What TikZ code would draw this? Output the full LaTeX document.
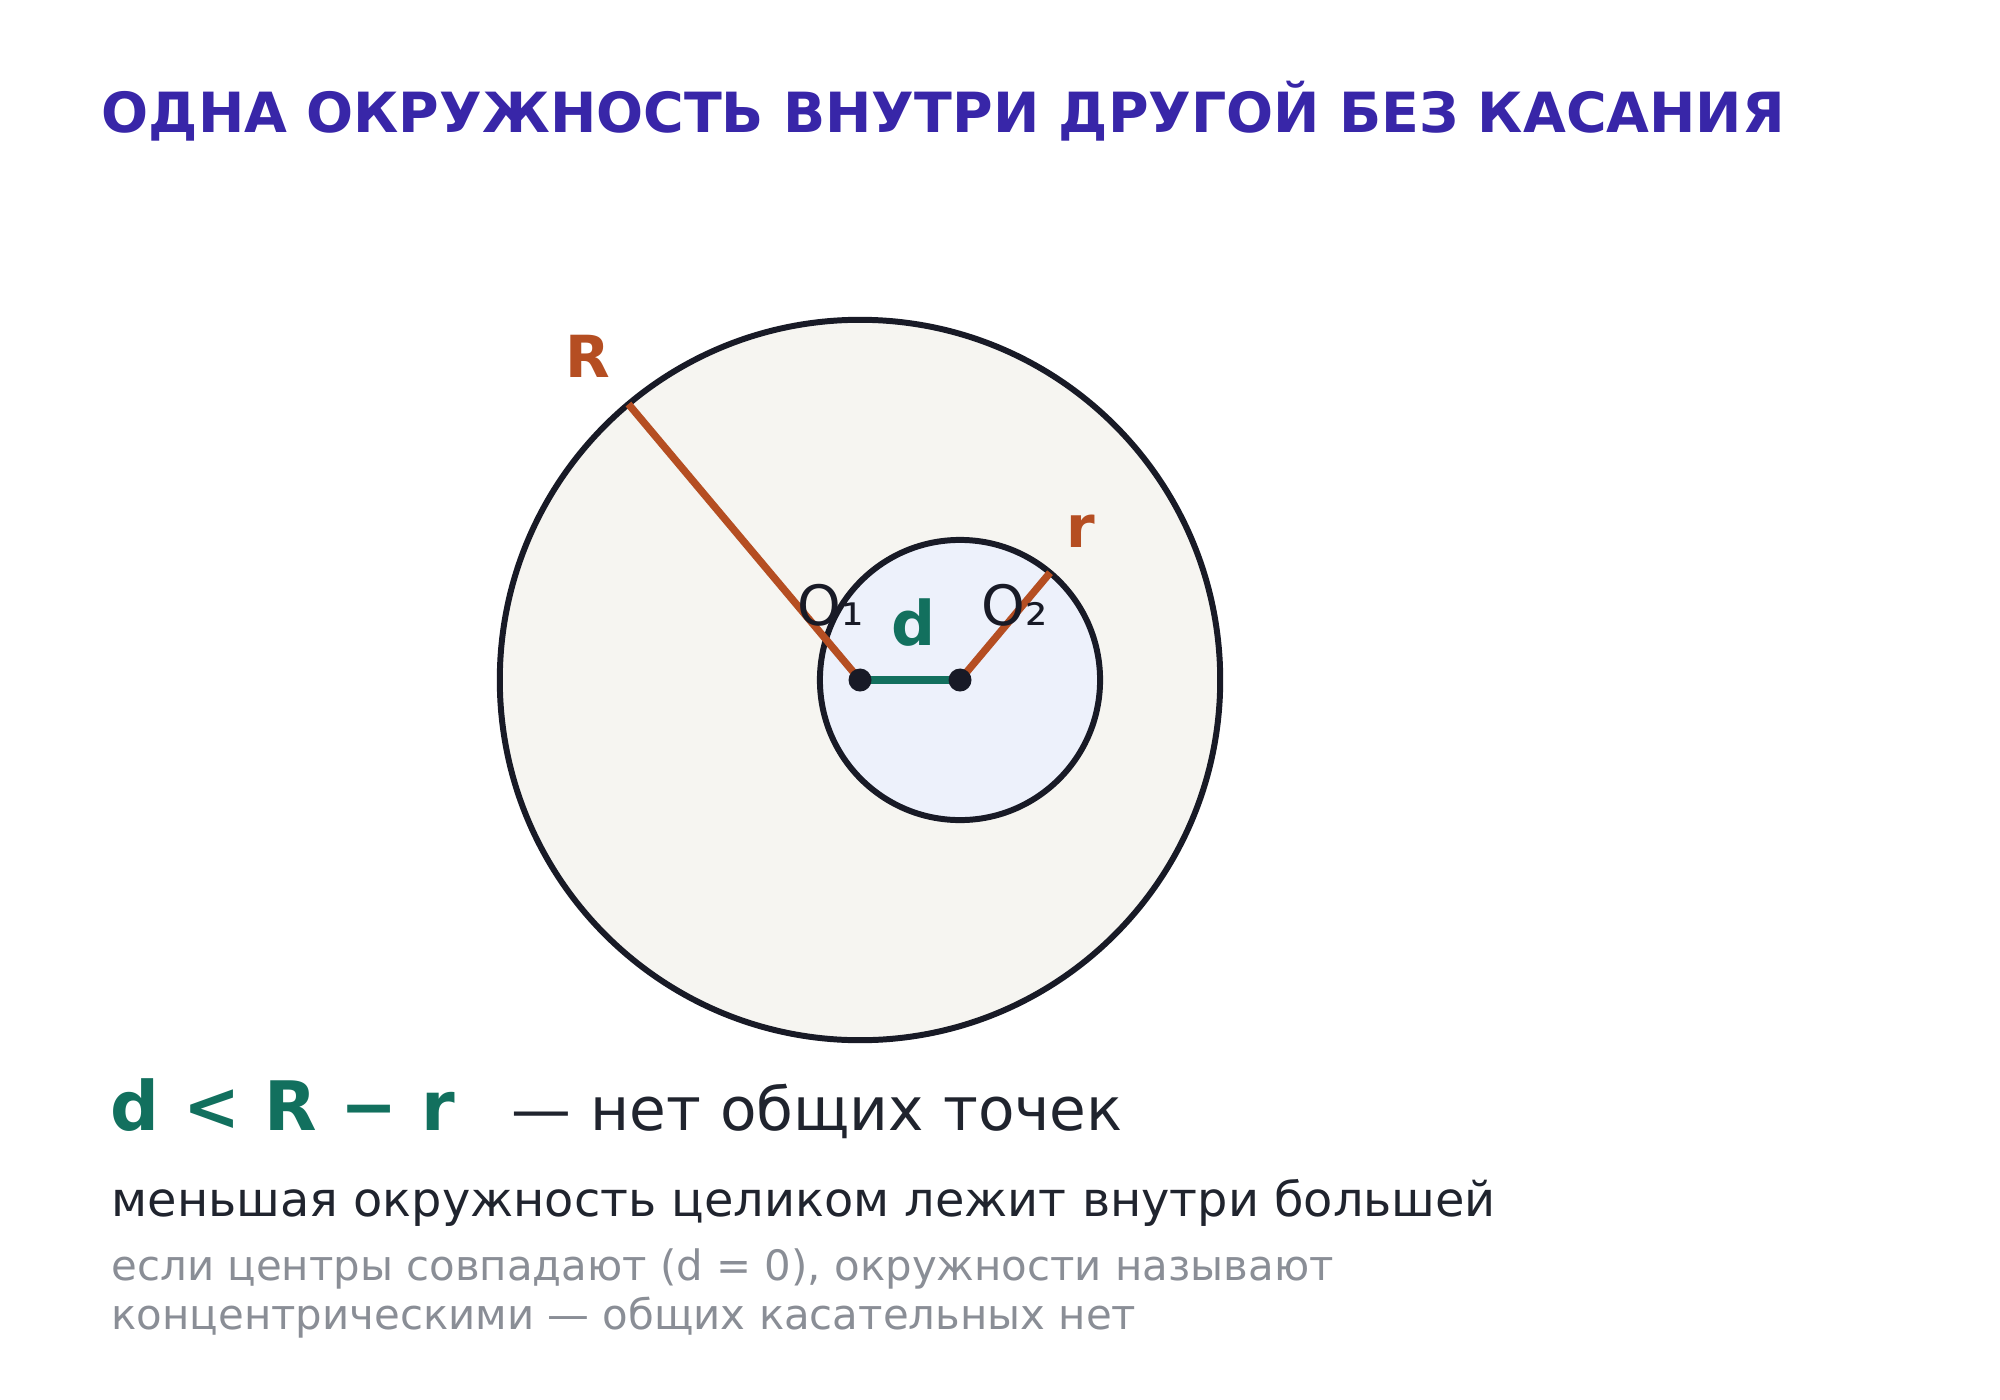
\documentclass[tikz,border=0pt]{standalone}
\usepackage{fontspec}
\setmainfont{DejaVu Sans}
\definecolor{titleC}{RGB}{56,38,168}
\definecolor{orangeC}{RGB}{181,78,34}
\definecolor{tealC}{RGB}{18,112,94}
\definecolor{inkC}{RGB}{24,26,38}
\definecolor{bigfillC}{RGB}{246,245,241}
\definecolor{smallfillC}{RGB}{237,241,251}
\definecolor{textC}{RGB}{32,36,46}
\definecolor{grayC}{RGB}{138,142,150}
\begin{document}
\begin{tikzpicture}[x=0.01cm,y=-0.01cm,
  ring/.style={circle,draw=inkC,line width=1.7pt,inner sep=0pt,outer sep=0pt},
  radiusline/.style={draw=orangeC,line width=2.1pt},
  distline/.style={draw=tealC,line width=2.2pt},
  dot/.style={circle,fill=inkC,inner sep=0pt,minimum size=0.23cm},
  lbl/.style={inner sep=0pt,anchor=base west},
]
\useasboundingbox[fill=white] (0,0) rectangle (2000,1400);
% title
\node[lbl,text=titleC,font=\fontsize{15.75}{19}\selectfont\bfseries] (title) at (101,133) {ОДНА ОКРУЖНОСТЬ ВНУТРИ ДРУГОЙ БЕЗ КАСАНИЯ};
% circles
\node[ring,fill=bigfillC,minimum size=7.2cm] (big) at (860,680) {};
\node[ring,fill=smallfillC,minimum size=2.8cm] (small) at (960,680) {};
% centres
\coordinate (c1) at (860,680);
\coordinate (c2) at (960,680);
\path[radiusline] (c1) -- (big.130);
\path[radiusline] (c2) -- (small.50);
\path[distline] (c1) -- (c2);
\node[dot] (O1) at (c1) {};
\node[dot] (O2) at (c2) {};
% labels
\node[lbl,text=orangeC,font=\fontsize{16.5}{19}\selectfont\bfseries] (Rl) at (565,377) {R};
\node[lbl,text=orangeC,font=\fontsize{16.5}{19}\selectfont\bfseries] (rl) at (1066,547) {r};
\node[lbl,text=inkC,font=\fontsize{15.8}{18}\selectfont] (O1l) at (797,625) {O₁};
\node[lbl,text=inkC,font=\fontsize{15.8}{18}\selectfont] (O2l) at (981,625) {O₂};
\node[lbl,text=tealC,font=\fontsize{17.5}{20}\selectfont\bfseries] (dl) at (891,645) {d};
% bottom text
\node[lbl,text=tealC,font=\fontsize{19.4}{23}\selectfont\bfseries] (formula) at (110,1130) {d < R − r};
\node[lbl,text=textC,font=\fontsize{17}{21}\selectfont] (nopts) at (511,1130) {— нет общих точек};
\node[lbl,text=textC,font=\fontsize{13.6}{17}\selectfont] (desc) at (111,1216) {меньшая окружность целиком лежит внутри большей};
\node[lbl,text=grayC,font=\fontsize{11.9}{14}\selectfont] (note1) at (111,1280) {если центры совпадают (d = 0), окружности называют};
\node[lbl,text=grayC,font=\fontsize{11.9}{14}\selectfont] (note2) at (111,1329) {концентрическими — общих касательных нет};
\end{tikzpicture}
\end{document}
